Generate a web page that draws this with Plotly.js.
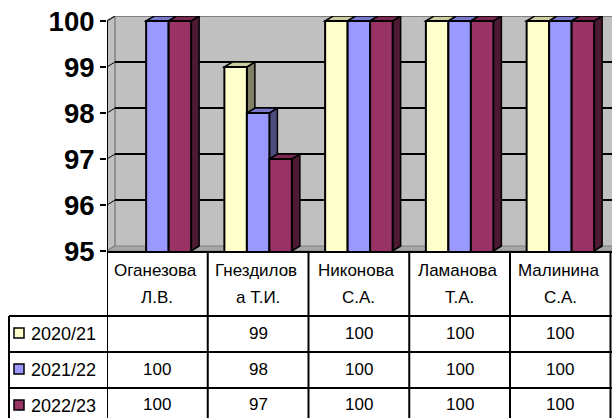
<!DOCTYPE html>
<html><head><meta charset="utf-8">
<script src="https://cdn.plot.ly/plotly-3.0.0.min.js"></script>
<style>html,body{margin:0;padding:0;background:#fff;overflow:hidden}</style></head>
<body><div id="c" style="width:612px;height:418px"></div>
<script>
const nameLine1 = ["Оганезова","Гнездилов","Никонова","Ламанова","Малинина"];
const nameLine2 = ["Л.В.","а Т.И.","С.А.","Т.А.","С.А."];
const seasons = ["2020/21","2021/22","2022/23"];
const v2021 = [null,99,100,100,100];
const v2122 = [100,98,100,100,100];
const v2223 = [100,97,100,100,100];
const yTicks = [95,96,97,98,99,100];
const faceColors = ["#FFFFCC","#9999FF","#993366"];
const topColors = ["#CCCCA3","#7A7ACC","#7A2952"];
const sideColors = ["#808066","#4D4D80","#4D1A33"];

const W=612,H=418,L=107,R=0,T=16,B=167;
const pxX=100.75, pxY=46;
const xMin=-0.5, xMax=xMin+(W-L)/pxX, yMin=95, yMax=95+(251-T)/pxY;
const dx=8/pxX, dy=5/pxY;
const bw=22.5/pxX;
const series=[v2021,v2122,v2223];
const idx=nameLine1.map((_,i)=>i);
const py=p=>(251-p)/(251-T);
const shapes=[], annotations=[];
const poly=(pts,fill,lw,col,layer)=>shapes.push({type:'path',xref:'x',yref:'y',layer:layer||'between',
  path:'M'+pts.map(p=>p[0]+','+p[1]).join(' L')+' Z',fillcolor:fill,line:{color:col||'#000',width:lw}});

// walls and floor
poly([[xMin+dx,yMin+dy],[xMin+dx,yMax],[xMax+1,yMax],[xMax+1,yMin+dy]],'#C0C0C0',0,'#C0C0C0');
poly([[xMin,yMin],[xMin,100],[xMin+dx,yMax],[xMin+dx,yMin+dy]],'#C0C0C0',1.5,'#808080');
poly([[xMin,yMin],[xMin+dx,yMin+dy],[xMax+1,yMin+dy],[xMax+1,yMin]],'#A6A6A6',1,'#808080');
// gridlines on back and side wall
yTicks.slice(1).forEach(t=>{
  shapes.push({type:'line',xref:'x',yref:'y',layer:'between',x0:xMin+dx,x1:xMax+1,y0:t+dy,y1:t+dy,line:{color:t===100?'#808080':'#000',width:2}});
  shapes.push({type:'line',xref:'x',yref:'y',layer:'between',x0:xMin,x1:xMin+dx,y0:t,y1:t+dy,line:{color:'#000',width:1}});
});
shapes.push({type:'line',xref:'x',yref:'y',layer:'between',x0:xMin,x1:xMin,y0:95,y1:100,line:{color:'#000',width:2}});
// 3D sides and tops of bars
series.forEach((vals,s)=>{
  vals.forEach((v,i)=>{
    if(v===null) return;
    const x0=i+(s-1.5)*bw, x1=x0+bw;
    poly([[x1,yMin],[x1+dx,yMin+dy],[x1+dx,v+dy],[x1,v]],sideColors[s],1.5);
    poly([[x0,v],[x0+dx,v+dy],[x1+dx,v+dy],[x1,v]],topColors[s],1.5);
  });
});
// table lines
const rows=[316,352,388];
const vline=(x,p0,p1)=>shapes.push({type:'line',xref:'x',yref:'paper',layer:'above',x0:x,x1:x,y0:py(p0),y1:py(p1),line:{color:'#000',width:2}});
idx.forEach(i=>vline(i-0.5,251,418));
vline(xMax-0.015,251,418);
shapes.push({type:'line',xref:'paper',yref:'paper',layer:'above',x0:(9-L)/(W-L),x1:(9-L)/(W-L),y0:py(316),y1:py(418),line:{color:'#000',width:2}});
rows.forEach(r=>shapes.push({type:'line',xref:'paper',yref:'paper',layer:'above',x0:(9-L)/(W-L),x1:1,y0:py(r),y1:py(r),line:{color:'#000',width:2}}));
// table text
const F={family:'Liberation Sans, Arial, sans-serif',size:17,color:'#000'};
const txt=(x,xref,y,text,anchor,size)=>annotations.push({x,xref,y:py(y),yref:'paper',text,showarrow:false,font:{...F,size:size||17},xanchor:anchor||'center',yanchor:'middle'});
idx.forEach(i=>{txt(i-0.02,'x',270,nameLine1[i]);txt(i,'x',297,nameLine2[i]);});
const rowY=[333,369,405];
series.forEach((vals,s)=>{
  vals.forEach((v,i)=>{ if(v!==null) txt(i,'x',rowY[s],String(v)); });
  txt((29-L)/(W-L),'paper',rowY[s]+1,seasons[s],'left',18);
  shapes.push({type:'rect',xref:'paper',yref:'paper',layer:'above',x0:(14-L)/(W-L),x1:(24-L)/(W-L),y0:py(rowY[s]-5),y1:py(rowY[s]+5),fillcolor:faceColors[s],line:{color:'#000',width:1.5}});
});

const traces=series.map((vals,s)=>({type:'bar',name:seasons[s],x:idx,y:vals,
  marker:{color:faceColors[s],line:{color:'#000',width:2}},hoverinfo:'x+y+name'}));
Plotly.newPlot('c',traces,{
  width:W,height:H,margin:{l:L,r:R,t:T,b:B,pad:0},paper_bgcolor:'#fff',plot_bgcolor:'#fff',
  showlegend:false,barmode:'group',bargap:1-3*22.5/100.75,bargroupgap:0,
  xaxis:{range:[xMin,xMax],showticklabels:false,ticks:'',showgrid:false,zeroline:false,showline:true,linecolor:'#000',linewidth:2,tickvals:idx},
  yaxis:{range:[yMin,yMax],tickvals:yTicks,ticktext:yTicks.map(String),showgrid:false,zeroline:false,showline:false,
    ticks:'outside',ticklen:6,tickwidth:2,tickcolor:'#000',
    tickfont:{family:'Liberation Sans, Arial, sans-serif',size:27.5,color:'#000',weight:700}},
  shapes,annotations
},{displayModeBar:false,staticPlot:true});
</script></body></html>
